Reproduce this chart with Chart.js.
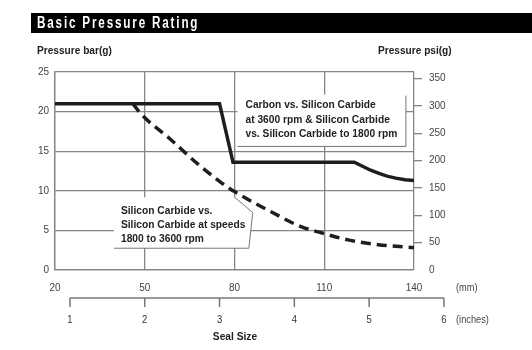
<!DOCTYPE html>
<html>
<head>
<meta charset="utf-8">
<script src="https://cdn.jsdelivr.net/npm/chart.js@4"></script>
<style>
  body { margin: 0; background: #fff; }
</style>
</head>
<body>
<canvas id="pressureChart" width="532" height="350"></canvas>
<script>
// seal size in mm vs pressure in bar(g)
const carbonMm  = [20, 75, 79.5, 120, 122.8, 125.5, 128.3, 131, 133.9, 137, 140];
const carbonBar = [21, 21, 13.6, 13.6, 13.1, 12.6, 12.2, 11.85, 11.6, 11.4, 11.3];

const sicMm  = [46, 49, 58, 68, 75, 80, 93, 102, 109, 118, 128, 137, 140];
const sicBar = [21, 19.6, 16.7, 13.3, 11.2, 9.9, 7.2, 5.5, 4.7, 3.8, 3.2, 2.9, 2.8];

const psiTicks = [0, 50, 100, 150, 200, 250, 300, 350];
const inchTicks = [1, 2, 3, 4, 5, 6];
const mmPerInch = 25; // the inch scale in the picture is schematic

const chartTitle = 'Basic Pressure Rating';
const carbonNote = ['Carbon vs. Silicon Carbide', 'at 3600 rpm & Silicon Carbide', 'vs. Silicon Carbide to 1800 rpm'];
const sicNote = ['Silicon Carbide vs.', 'Silicon Carbide at speeds', '1800 to 3600 rpm'];

const sans = '"Liberation Sans", Arial, sans-serif';
const gridGray = '#858585';
const inkColor = '#1e1e1e';

const toPoints = (xs, ys) => xs.map((x, i) => ({ x: x, y: ys[i] }));

// no condensed font installed, so squeeze the text a bit
function narrowText(ctx, s, x, y, sx) {
  ctx.save();
  ctx.translate(x, y);
  ctx.scale(sx, 1);
  ctx.fillText(s, 0, 0);
  ctx.restore();
}

// white note boxes that sit over the grid
const notesPlugin = {
  id: 'notes',
  beforeDatasetsDraw(chart) {
    const ctx = chart.ctx;
    const x = chart.scales.x, y = chart.scales.y;
    ctx.save();
    // box 1
    let l = x.getPixelForValue(81), r = x.getPixelForValue(137.3);
    let t = y.getPixelForValue(22.15), b = y.getPixelForValue(15.6);
    ctx.fillStyle = '#fff';
    ctx.fillRect(l, t, r - l, b - t);
    ctx.strokeStyle = '#777';
    ctx.lineWidth = 1;
    ctx.beginPath();
    ctx.moveTo(r, t + 1); ctx.lineTo(r, b); ctx.lineTo(l, b);
    ctx.stroke();
    ctx.fillStyle = '#222';
    ctx.font = 'bold 11px ' + sans;
    ctx.textBaseline = 'middle';
    carbonNote.forEach((s, i) => narrowText(ctx, s, l + 8, t + 10.5 + i * 14.5, 0.93));

    // box 2 (callout pointing at the dashed curve)
    l = x.getPixelForValue(39.7);
    const cx = x.getPixelForValue(80), r2 = x.getPixelForValue(86.1), r3 = x.getPixelForValue(84.8);
    t = y.getPixelForValue(9.2);
    const cy = y.getPixelForValue(7.25);
    b = y.getPixelForValue(2.75);
    ctx.fillStyle = '#fff';
    ctx.beginPath();
    ctx.moveTo(l, t); ctx.lineTo(cx, t); ctx.lineTo(r2, cy); ctx.lineTo(r3, b); ctx.lineTo(l, b);
    ctx.closePath();
    ctx.fill();
    ctx.beginPath();
    ctx.moveTo(cx, t); ctx.lineTo(r2, cy); ctx.lineTo(r3, b); ctx.lineTo(l, b);
    ctx.stroke();
    ctx.fillStyle = '#222';
    sicNote.forEach((s, i) => narrowText(ctx, s, l + 7, t + 14 + i * 14, 0.93));
    ctx.restore();
  },
  afterDraw(chart) {
    const ctx = chart.ctx;
    const x = chart.scales.x;
    ctx.save();
    // black title bar
    ctx.fillStyle = '#000';
    ctx.fillRect(31, 13, 501, 20);
    ctx.fillStyle = '#fff';
    ctx.textBaseline = 'middle';
    ctx.textAlign = 'left';
    ctx.font = 'bold 16px ' + sans;
    ctx.letterSpacing = '2.5px';
    narrowText(ctx, chartTitle, 37, 23.5, 0.73);
    ctx.letterSpacing = '0px';

    ctx.fillStyle = '#222';
    ctx.font = 'bold 11px ' + sans;
    narrowText(ctx, 'Pressure bar(g)', 37, 51, 0.92);
    narrowText(ctx, 'Pressure psi(g)', 378, 51, 0.92);
    ctx.textAlign = 'center';
    narrowText(ctx, 'Seal Size', 235, 337, 0.93);

    ctx.font = '10.5px ' + sans;
    ctx.fillStyle = '#444';
    ctx.textAlign = 'left';
    narrowText(ctx, '(mm)', 456, 288, 0.88);
    narrowText(ctx, '(inches)', 456, 320, 0.88);

    // inch scale below the mm axis
    const lineY = 298;
    const x0 = x.getPixelForValue(inchTicks[0] * mmPerInch);
    const x1 = x.getPixelForValue(inchTicks[inchTicks.length - 1] * mmPerInch);
    ctx.strokeStyle = '#777';
    ctx.lineWidth = 1.5;
    ctx.beginPath();
    ctx.moveTo(x0, lineY); ctx.lineTo(x1, lineY);
    inchTicks.forEach(v => {
      const px = x.getPixelForValue(v * mmPerInch);
      ctx.moveTo(px, lineY); ctx.lineTo(px, lineY + 9);
    });
    ctx.stroke();
    ctx.textAlign = 'center';
    ctx.fillStyle = '#333';
    ctx.font = '10.5px ' + sans;
    inchTicks.forEach(v => {
      narrowText(ctx, String(v), x.getPixelForValue(v * mmPerInch), 320, 0.9);
    });
    ctx.restore();
  }
};

const ctx = document.getElementById('pressureChart').getContext('2d');
const myChart = new Chart(ctx, {
  type: 'line',
  data: {
    datasets: [{
      label: 'Carbon vs. Silicon Carbide',
      data: toPoints(carbonMm, carbonBar),
      borderColor: inkColor,
      borderWidth: 3.5,
      pointRadius: 0,
      tension: 0,
      fill: false
    }, {
      label: 'Silicon Carbide vs. Silicon Carbide',
      data: toPoints(sicMm, sicBar),
      borderColor: inkColor,
      borderWidth: 3.5,
      borderDash: [10, 6],
      pointRadius: 0,
      cubicInterpolationMode: 'monotone',
      fill: false
    }]
  },
  options: {
    responsive: false,
    devicePixelRatio: 1,
    animation: false,
    layout: { padding: { top: 72, left: 0, right: 0, bottom: 0 } },
    plugins: { legend: { display: false }, tooltip: { enabled: false } },
    scales: {
      x: {
        type: 'linear',
        min: 20,
        max: 140,
        ticks: { stepSize: 30, color: '#444', font: { family: sans, size: 10 }, padding: 12 },
        grid: { color: gridGray, lineWidth: 1.3, drawTicks: false },
        border: { color: gridGray, width: 1.3 },
        afterFit(scale) { scale.height = 80; }
      },
      y: {
        position: 'left',
        min: 0,
        max: 25,
        ticks: { stepSize: 5, color: '#444', font: { family: sans, size: 10 }, padding: 6 },
        grid: { color: gridGray, lineWidth: 1.3, drawTicks: false },
        border: { color: gridGray, width: 1.3 },
        afterFit(scale) { scale.width = 55; }
      },
      y2: {
        position: 'right',
        min: 0,
        max: 362,
        afterBuildTicks(scale) { scale.ticks = psiTicks.map(v => ({ value: v })); },
        ticks: { color: '#444', font: { family: sans, size: 10 }, padding: 7 },
        grid: {
          drawOnChartArea: false,
          tickLength: 8,
          lineWidth: 1.3,
          tickColor: c => (c.tick && c.tick.value === 0) ? 'rgba(0,0,0,0)' : gridGray
        },
        border: { display: false },
        afterFit(scale) { scale.width = 118; }
      }
    }
  },
  plugins: [notesPlugin]
});
</script>
</body>
</html>
